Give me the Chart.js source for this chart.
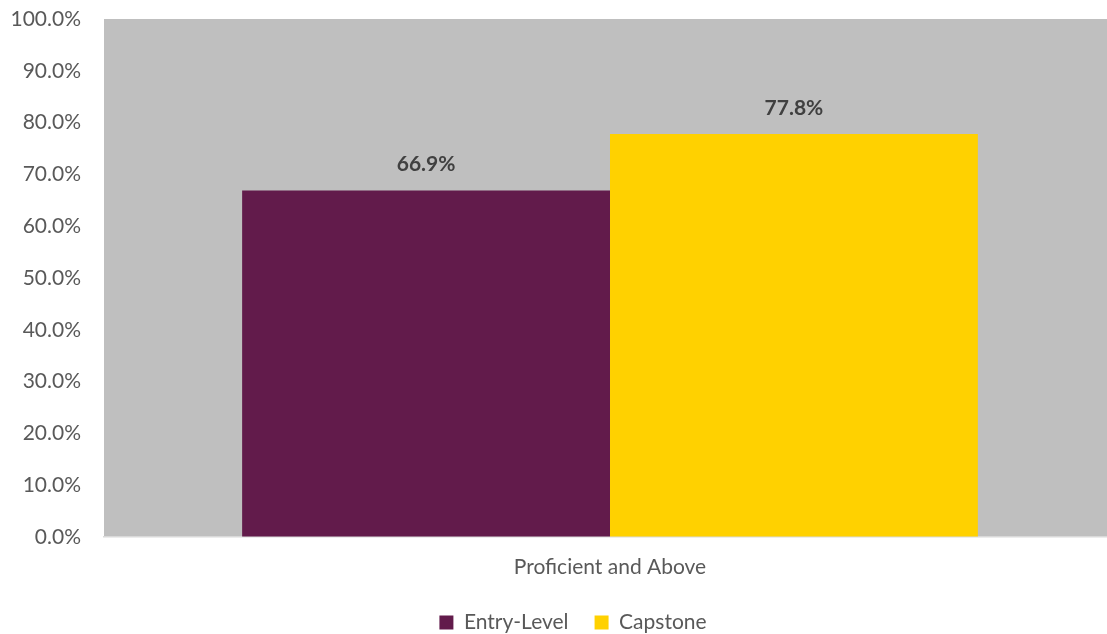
<!DOCTYPE html>
<html lang="en">
<head>
  <meta charset="UTF-8">
  <title>Proficient and Above</title>
  <script src="https://cdn.jsdelivr.net/npm/chart.js"></script>
  <style>
    html, body { margin: 0; padding: 0; overflow: hidden; background: #fff; }
    canvas { display: block; }
  </style>
</head>
<body>
  <canvas id="chart" width="1146" height="634"></canvas>
  <script>
    const categories = ['Proficient and Above'];
    const seriesNames = ['Entry-Level', 'Capstone'];
    const entryLevel = [66.9];
    const capstone = [77.8];
    const seriesColors = ['#621B4B', '#FFD100'];

    const FONT = 'Lato, "Open Sans", sans-serif';

    // gray plot area behind the bars
    const plotBackground = {
      id: 'plotBackground',
      beforeDraw(chart) {
        const { ctx, chartArea: a } = chart;
        ctx.save();
        ctx.fillStyle = '#BFBFBF';
        ctx.fillRect(a.left, a.top, a.right - a.left, a.bottom - a.top);
        ctx.restore();
      }
    };

    // value text above each bar
    const valueLabels = {
      id: 'valueLabels',
      afterDatasetsDraw(chart) {
        const ctx = chart.ctx;
        ctx.save();
        ctx.font = 'bold 21px ' + FONT;
        ctx.fillStyle = '#404040';
        ctx.textAlign = 'center';
        ctx.textBaseline = 'middle';
        chart.data.datasets.forEach((ds, i) => {
          chart.getDatasetMeta(i).data.forEach((bar, j) => {
            ctx.fillText(ds.data[j].toFixed(1) + '%', bar.x, bar.y - 26);
          });
        });
        ctx.restore();
      }
    };

    // legend sits centred under the whole chart box, a bit right of the plot centre
    const legendShift = {
      id: 'legendShift',
      afterLayout(chart) {
        chart.legend.left += 15;
        chart.legend.right += 15;
      }
    };

    const ctx = document.getElementById('chart').getContext('2d');
    new Chart(ctx, {
      type: 'bar',
      data: {
        labels: categories,
        datasets: [
          { label: seriesNames[0], data: entryLevel, backgroundColor: seriesColors[0] },
          { label: seriesNames[1], data: capstone, backgroundColor: seriesColors[1] }
        ]
      },
      options: {
        responsive: false,
        animation: false,
        categoryPercentage: 0.727,
        barPercentage: 1.0,
        layout: { padding: { top: 19, right: 30, left: 0, bottom: -9 } },
        plugins: {
          tooltip: { enabled: false },
          legend: {
            position: 'bottom',
            labels: {
              boxWidth: 14,
              boxHeight: 14,
              padding: 26,
              color: '#595959',
              font: { family: FONT, size: 21 }
            }
          }
        },
        scales: {
          x: {
            grid: { display: false },
            border: { color: '#D9D9D9', width: 1.5 },
            ticks: { color: '#595959', padding: 10, font: { family: FONT, size: 21 } },
            afterFit(s) { s.height = 49; }
          },
          y: {
            min: 0,
            max: 100,
            grid: { drawOnChartArea: false, drawTicks: true, tickLength: 23, tickColor: 'rgba(0,0,0,0)' },
            border: { display: false },
            ticks: {
              stepSize: 10,
              color: '#595959',
              padding: 0,
              font: { family: FONT, size: 21 },
              callback: v => v.toFixed(1) + '%'
            },
            afterFit(s) { s.width = 104; }
          }
        }
      },
      plugins: [plotBackground, valueLabels, legendShift]
    });
  </script>
</body>
</html>
